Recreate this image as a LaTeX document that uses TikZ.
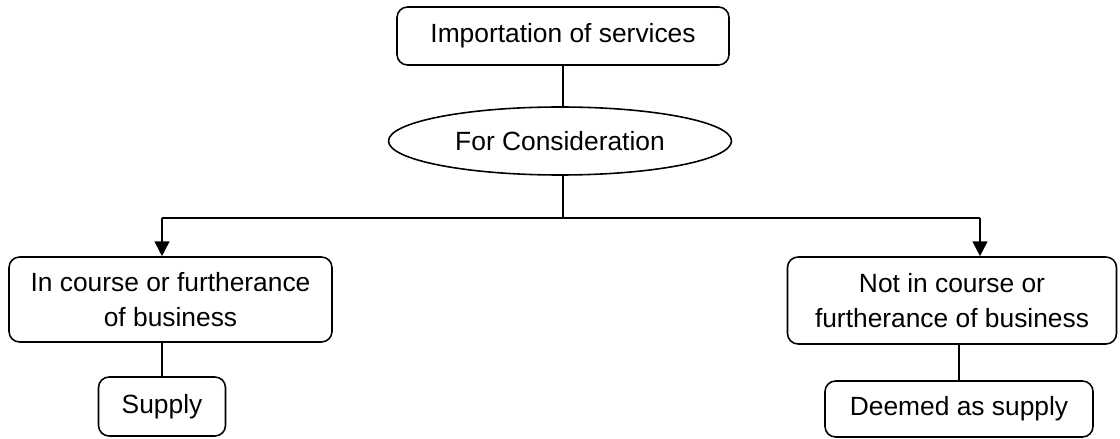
\documentclass[tikz,border=0pt]{standalone}
\usepackage{fontspec}
\setmainfont{Liberation Sans}
\usepackage{tikz}
\usetikzlibrary{shapes.geometric,arrows.meta}

\tikzset{
  box/.style={draw, rounded corners=6pt, line width=0.9pt, align=center, inner sep=0pt, font=\fontsize{15}{20}\selectfont},
  oval/.style={draw, ellipse, line width=0.9pt, inner sep=0pt, font=\fontsize{15}{20}\selectfont},
  link/.style={line width=0.9pt},
  arr/.style={line width=0.9pt, -{Triangle[width=8.5pt,length=8.5pt]}}
}

\begin{document}
\begin{tikzpicture}
\useasboundingbox (0,0) rectangle (22.4,-8.78);

% Top part
\node[box, minimum width=6.64cm, minimum height=1.16cm] (import) at (11.26,-0.72) {Importation of services};
\node[oval, minimum width=6.86cm, minimum height=1.36cm] (consid) at (11.2,-2.82) {For Consideration};
\draw[link] (import.south) -- (import.south |- consid.north);

% Branches
\coordinate (split) at (11.26,-4.36);
\coordinate (bl) at (3.24,-4.36);
\coordinate (br) at (19.6,-4.36);
\node[box, minimum width=6.46cm, minimum height=1.70cm] (inbus) at (3.41,-5.99) {In course or furtherance\\of business};
\node[box, minimum width=6.58cm, minimum height=1.74cm] (notbus) at (19.04,-6.01) {Not in course or\\furtherance of business};
\draw[link] (split |- consid.south) -- (split);
\draw[link] (bl) -- (br);
\draw[arr] (bl) -- (bl |- inbus.north);
\draw[arr] (br) -- (br |- notbus.north);

% Results
\node[box, minimum width=2.54cm, minimum height=1.18cm] (supply) at (3.24,-8.13) {Supply};
\node[box, minimum width=5.36cm, minimum height=1.12cm] (deemed) at (19.18,-8.18) {Deemed as supply};
\draw[link] (inbus.south -| supply) -- (supply);
\draw[link] (notbus.south -| deemed) -- (deemed);

\end{tikzpicture}
\end{document}
